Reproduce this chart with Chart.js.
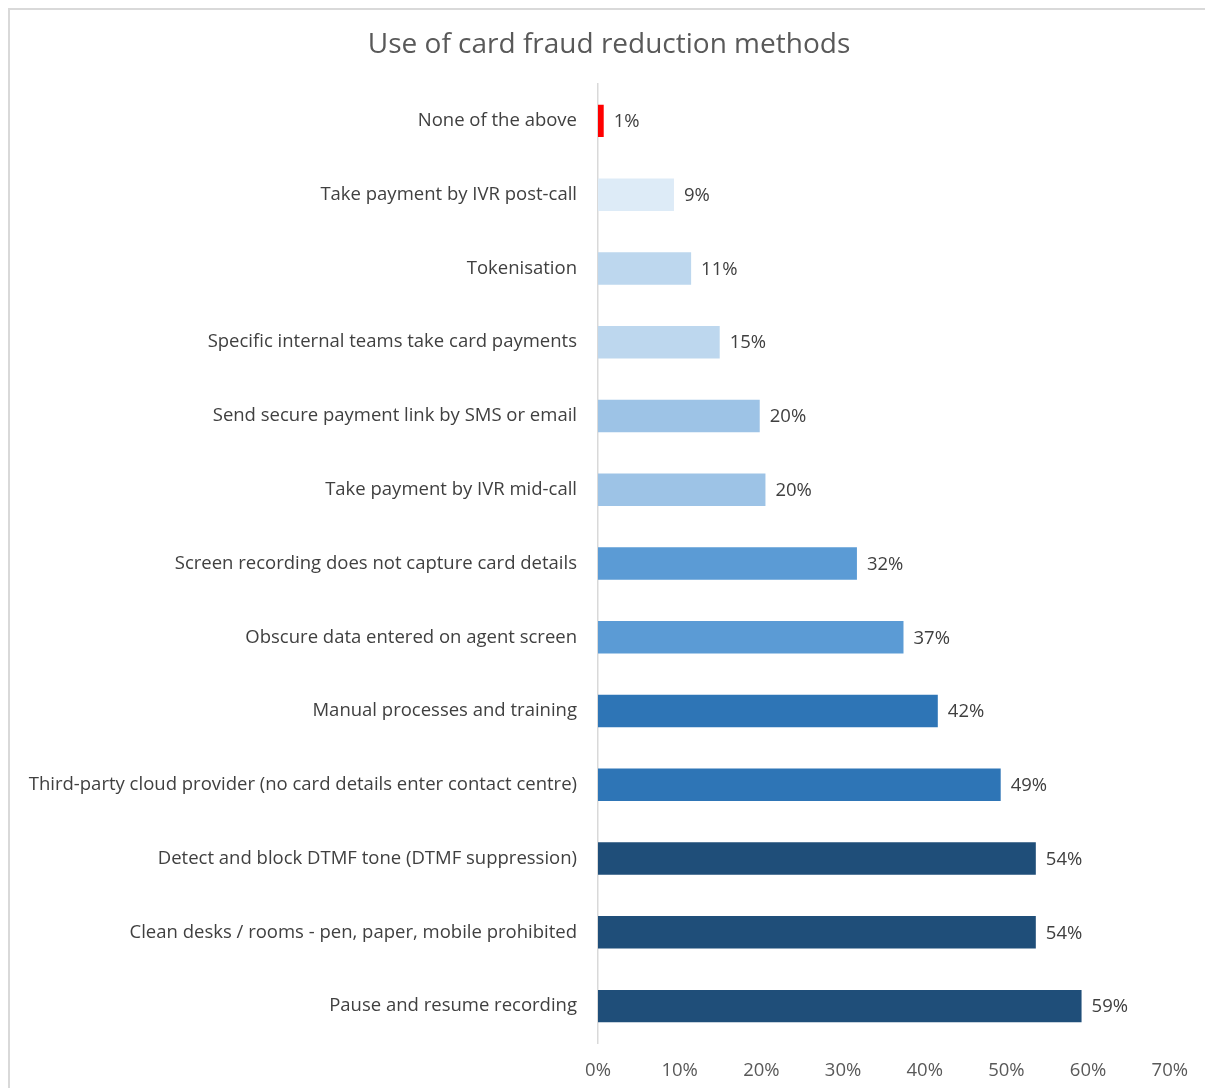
<!DOCTYPE html>
<html>
<head>
<meta charset="utf-8">
<script src="https://cdn.jsdelivr.net/npm/chart.js@4.4.1/dist/chart.umd.min.js"></script>
<style>
  html, body { margin: 0; padding: 0; background: #fff; }
  #wrap { position: relative; width: 1205px; height: 1088px; }
  #frame {
    position: absolute; left: 8px; top: 8px; right: -10px; bottom: -10px;
    border-top: 2px solid #d9d9d9; border-left: 2px solid #d9d9d9;
    pointer-events: none;
  }
</style>
</head>
<body>
<div id="wrap">
  <canvas id="chart" width="1205" height="1088"></canvas>
  <div id="frame"></div>
</div>
<script>
// categories, top to bottom
const methods = [
    'None of the above',
    'Take payment by IVR post-call',
    'Tokenisation',
    'Specific internal teams take card payments',
    'Send secure payment link by SMS or email',
    'Take payment by IVR mid-call',
    'Screen recording does not capture card details',
    'Obscure data entered on agent screen',
    'Manual processes and training',
    'Third-party cloud provider (no card details enter contact centre)',
    'Detect and block DTMF tone (DTMF suppression)',
    'Clean desks / rooms - pen, paper, mobile prohibited',
    'Pause and resume recording'
];

// share of respondents (%)
const shares = [0.7, 9.3, 11.4, 14.9, 19.8, 20.5, 31.7, 37.4, 41.6, 49.3, 53.6, 53.6, 59.2];

// printed labels next to each bar
const shareLabels = ['1%', '9%', '11%', '15%', '20%', '20%', '32%', '37%', '42%', '49%', '54%', '54%', '59%'];

const xTicks = [0, 10, 20, 30, 40, 50, 60, 70];

const chartTitle = 'Use of card fraud reduction methods';

const barColors = [
    '#ff0000',
    '#ddebf7',
    '#bdd7ee',
    '#bdd7ee',
    '#9dc3e6',
    '#9dc3e6',
    '#5b9bd5',
    '#5b9bd5',
    '#2e75b6',
    '#2e75b6',
    '#1f4e79',
    '#1f4e79',
    '#1f4e79'
];

const FONT = "'Open Sans', 'Noto Sans', sans-serif";

// title centred on the framed area rather than on the chart box
const titleText = {
    id: 'titleText',
    afterDraw(chart) {
        const ctx = chart.ctx;
        ctx.save();
        ctx.font = '28px ' + FONT;
        ctx.fillStyle = '#595959';
        ctx.textAlign = 'center';
        ctx.textBaseline = 'middle';
        ctx.fillText(chartTitle, 609, 45);
        ctx.restore();
    }
};

// draws the value label just past the end of each bar
const valueLabels = {
    id: 'valueLabels',
    afterDatasetsDraw(chart) {
        const ctx = chart.ctx;
        const meta = chart.getDatasetMeta(0);
        ctx.save();
        ctx.font = '18.5px ' + FONT;
        ctx.fillStyle = '#404040';
        ctx.textAlign = 'left';
        ctx.textBaseline = 'middle';
        meta.data.forEach(function(bar, i) {
            ctx.fillText(shareLabels[i], bar.x + 10, bar.y + 1);
        });
        ctx.restore();
    }
};

new Chart(document.getElementById('chart'), {
    type: 'bar',
    data: {
        labels: methods,
        datasets: [{
            data: shares,
            backgroundColor: barColors,
            borderWidth: 0,
            barPercentage: 0.88,
            categoryPercentage: 0.5
        }]
    },
    options: {
        indexAxis: 'y',
        responsive: false,
        animation: false,
        layout: {
            padding: { left: 0, right: 34, top: 84, bottom: 0 }
        },
        plugins: {
            legend: { display: false },
            tooltip: { enabled: false },
            title: { display: false }
        },
        scales: {
            x: {
                min: 0,
                max: 70,
                afterBuildTicks: function(axis) {
                    axis.ticks = xTicks.map(function(v) { return { value: v }; });
                },
                grid: { display: false, drawTicks: false },
                border: { display: false },
                ticks: {
                    color: '#595959',
                    padding: 17,
                    font: { family: FONT, size: 18.5 },
                    callback: function(value) { return value + '%'; }
                },
                afterFit: function(axis) { axis.height = 45; }
            },
            y: {
                grid: { display: false, drawTicks: false },
                border: { display: true, color: '#d9d9d9', width: 1.5 },
                ticks: {
                    color: '#404040',
                    padding: 21,
                    autoSkip: false,
                    font: { family: FONT, size: 18.5 }
                },
                afterFit: function(axis) { axis.width = 598; }
            }
        }
    },
    plugins: [valueLabels, titleText]
});
</script>
</body>
</html>
